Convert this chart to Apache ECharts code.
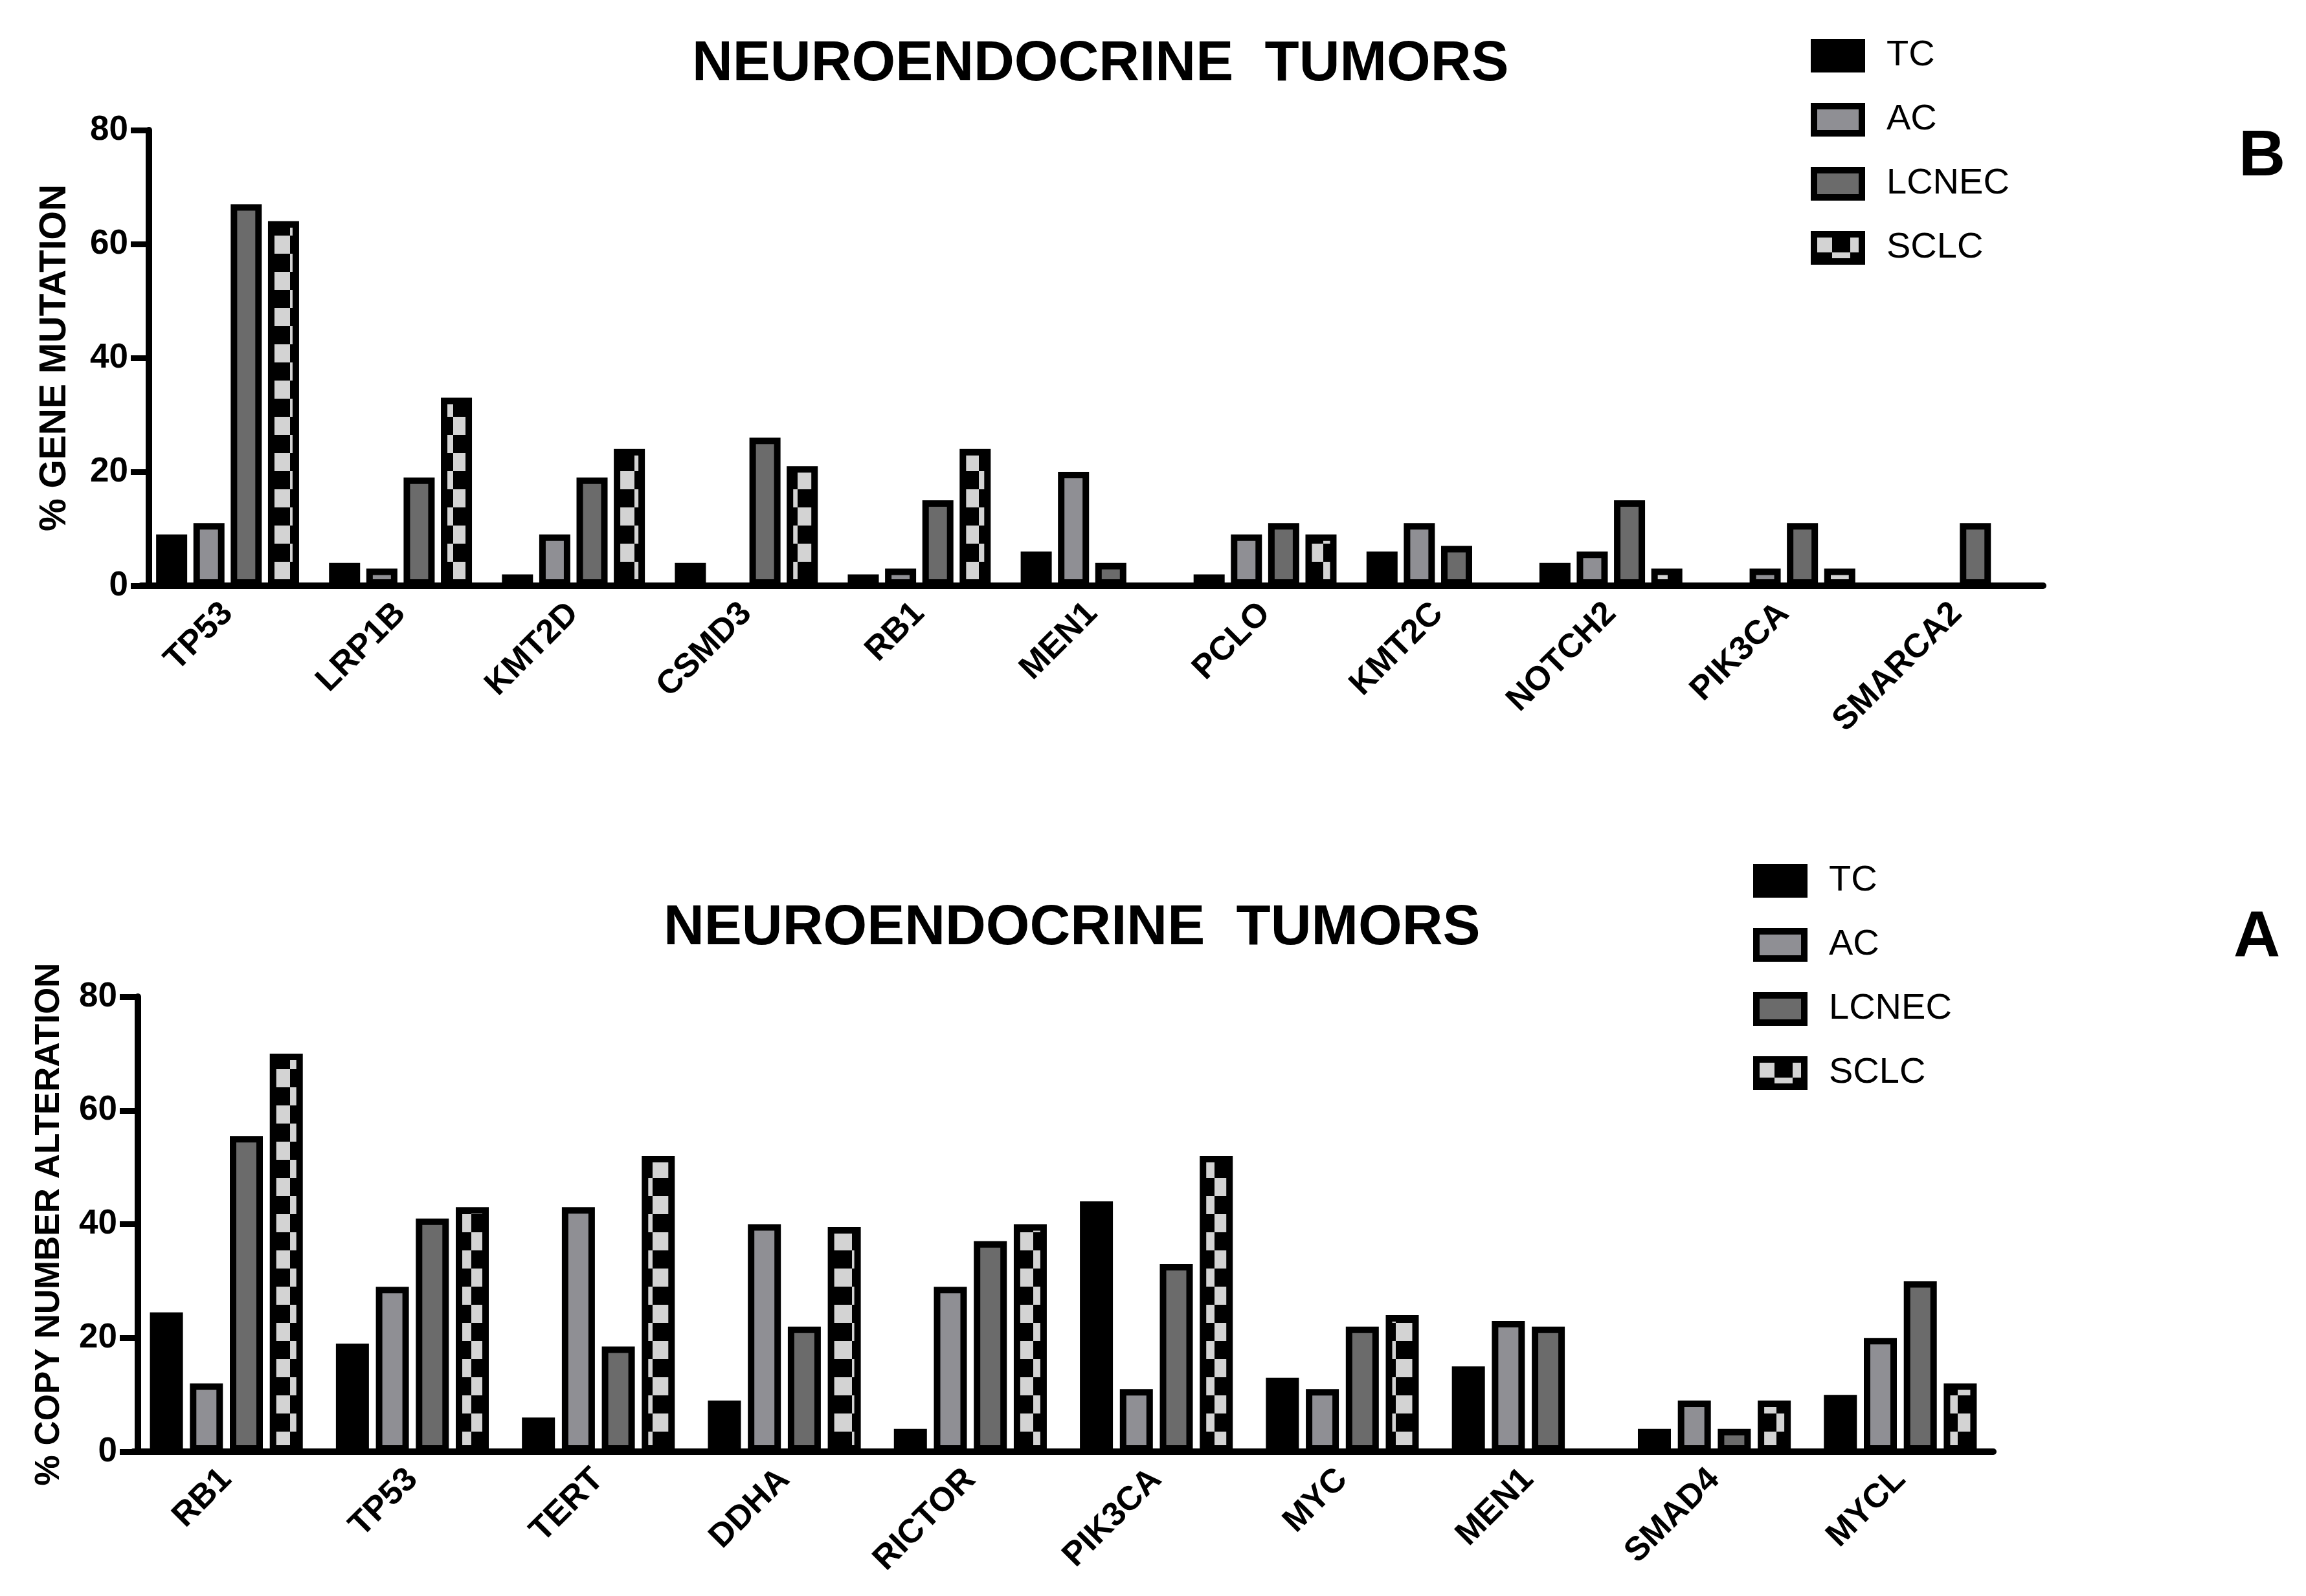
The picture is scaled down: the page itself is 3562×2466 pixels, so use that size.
<!DOCTYPE html>
<html lang="en">
<head>
    <meta charset="UTF-8">
    <title>Neuroendocrine tumors</title>
    <script src="https://cdn.jsdelivr.net/npm/echarts@6/dist/echarts.min.js"></script>
    <style>
        html,body{margin:0;padding:0;background:#fff;}
    </style>
</head>
<body>
    <div id="main" style="width:3562px;height:2466px;"></div>
    <script type="text/javascript">
        // B: gene mutation
        var mutGenes=['TP53','LRP1B','KMT2D','CSMD3','RB1','MEN1','PCLO','KMT2C','NOTCH2','PIK3CA','SMARCA2'];
        var mutTC=[9,4,2,4,2,6,2,6,4,null,null];
        var mutAC=[11,3,9,null,3,20,9,11,6,3,null];
        var mutLCNEC=[67,19,19,26,15,4,11,7,15,11,11];
        var mutSCLC=[64,33,24,21,24,null,9,null,3,3,null];

        // A: copy number alteration
        var cnaGenes=['RB1','TP53','TERT','DDHA','RICTOR','PIK3CA','MYC','MEN1','SMAD4','MYCL'];
        var cnaTC=[24.5,19,6,9,4,44,13,15,4,10];
        var cnaAC=[12,29,43,40,29,11,11,23,9,20];
        var cnaLCNEC=[55.5,41,18.5,22,37,33,22,22,4,30];
        var cnaSCLC=[70,43,52,39.5,40,52,24,null,9,12];

        var groups=['TC','AC','LCNEC','SCLC'];
        var yTicks=[0,20,40,60,80];

        var font='Liberation Sans';

        // checkerboard fill for SCLC
        function makeChecker(cell){
            var c=document.createElement('canvas');
            c.width=cell*2;c.height=cell*2;
            var g=c.getContext('2d');
            g.fillStyle='#000';
            g.fillRect(0,0,cell*2,cell*2);
            g.fillStyle='#d3d3d3';
            g.fillRect(0,0,cell,cell);
            g.fillRect(cell,cell,cell,cell);
            return c;
        }
        var checker={image:makeChecker(28),repeat:'repeat'};
        var fills=['#000','#8f8f94','#6b6b6b',checker];

        function barSeries(name,data,color,idx,bw,gap){
            return {
                name:name,
                type:'bar',
                xAxisIndex:idx,
                yAxisIndex:idx,
                data:data,
                barWidth:bw,
                barGap:gap,
                itemStyle:{color:color,borderColor:'#000',borderWidth:10},
                emphasis:{disabled:true}
            };
        }

        function xAxisOf(idx,cats){
            return {
                type:'category',
                gridIndex:idx,
                data:cats,
                axisLine:{lineStyle:{color:'#000',width:10}},
                axisTick:{alignWithLabel:true,length:28,lineStyle:{color:'#000',width:9}},
                axisLabel:{rotate:45,interval:0,margin:35,color:'#000',fontFamily:font,fontWeight:'bold',fontSize:52}
            };
        }

        function yAxisOf(idx,name,off,gap,nameSize){
            return {
                type:'value',
                gridIndex:idx,
                min:yTicks[0],
                max:yTicks[yTicks.length-1],
                interval:yTicks[1]-yTicks[0],
                offset:off,
                name:name,
                nameLocation:'middle',
                nameGap:gap,
                nameTextStyle:{color:'#000',fontFamily:font,fontWeight:'bold',fontSize:nameSize},
                axisLine:{show:true,lineStyle:{color:'#000',width:10}},
                axisTick:{show:true,length:28,lineStyle:{color:'#000',width:9}},
                axisLabel:{margin:32,color:'#000',fontFamily:font,fontWeight:'bold',fontSize:53},
                splitLine:{show:false}
            };
        }

        function legendOf(top,left){
            return {
                data:groups,
                orient:'vertical',
                left:left,
                top:top,
                padding:0,
                itemWidth:74,
                itemHeight:42,
                itemGap:43,
                icon:'rect',
                selectedMode:false,
                itemStyle:{borderColor:'#000',borderWidth:10},
                textStyle:{color:'#000',fontFamily:font,fontSize:56,padding:[0,0,0,33]}
            };
        }

        var chart=echarts.init(document.getElementById('main'),null,{renderer:'canvas'});

        var option={
            backgroundColor:'#fff',
            animation:false,
            title:[{
                text:'NEUROENDOCRINE  TUMORS',
                left:1064,
                top:52,
                textStyle:{color:'#000',fontFamily:font,fontWeight:'bold',fontSize:87}
            },{
                text:'NEUROENDOCRINE  TUMORS',
                left:1020,
                top:1387,
                textStyle:{color:'#000',fontFamily:font,fontWeight:'bold',fontSize:87}
            }],
            legend:[legendOf(58,2797),legendOf(1333,2708)],
            grid:[
                {left:218,top:201,width:2938,height:704,outerBoundsMode:'none'},
                {left:206,top:1540,width:2873,height:703,outerBoundsMode:'none'}
            ],
            xAxis:[xAxisOf(0,mutGenes),xAxisOf(1,cnaGenes)],
            yAxis:[
                yAxisOf(0,'% GENE MUTATION',-12,116,57),
                yAxisOf(1,'% COPY NUMBER ALTERATION',-7,110,53)
            ],
            graphic:[
                {type:'text',left:3458,top:193,style:{text:'B',fill:'#000',font:'bold 100px "Liberation Sans"'}},
                {type:'text',left:3450,top:1400,style:{text:'A',fill:'#000',font:'bold 100px "Liberation Sans"'}}
            ],
            series:[
                barSeries('TC',mutTC,fills[0],0,48,'20%'),
                barSeries('AC',mutAC,fills[1],0,48,'20%'),
                barSeries('LCNEC',mutLCNEC,fills[2],0,48,'20%'),
                barSeries('SCLC',mutSCLC,fills[3],0,48,'20%'),
                barSeries('TC',cnaTC,fills[0],1,51,'21%'),
                barSeries('AC',cnaAC,fills[1],1,51,'21%'),
                barSeries('LCNEC',cnaLCNEC,fills[2],1,51,'21%'),
                barSeries('SCLC',cnaSCLC,fills[3],1,51,'21%')
            ]
        };
        chart.setOption(option);
    </script>
</body>
</html>
